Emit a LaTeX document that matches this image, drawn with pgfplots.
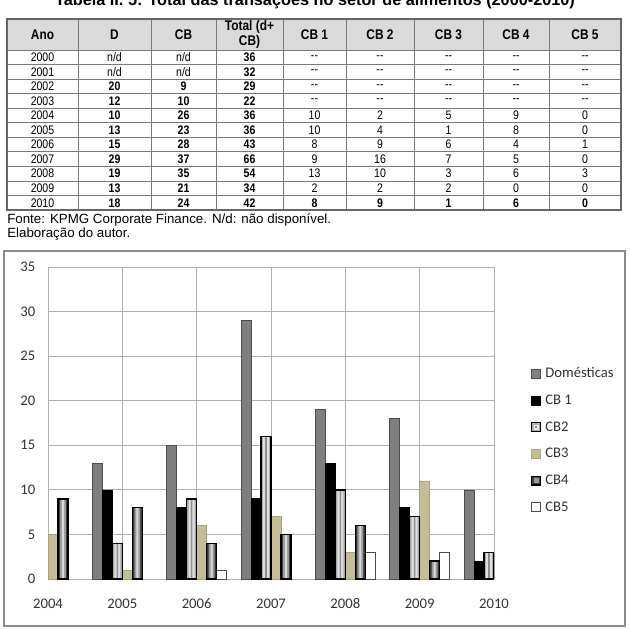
\documentclass[border=0pt]{standalone}
\usepackage{fontspec}
\setmainfont{Liberation Sans}
\newfontfamily\narrowfont{Liberation Sans}[FakeStretch=0.85]
\newfontfamily\calfont{Carlito}
\usepackage{pgfplots}
\pgfplotsset{compat=1.18}
\definecolor{gridgray}{HTML}{B0B0B0}
\definecolor{domgray}{HTML}{7F7F7F}
\definecolor{khaki}{HTML}{C4BD97}
\definecolor{hdr}{HTML}{DADADA}
\definecolor{tline}{HTML}{7A7A7A}
\pgfplotsset{/pgfplots/ybar legend/.style={/pgfplots/legend image code/.code={\draw[##1,line width=0.6pt] (0pt,-3.3pt) rectangle (6.6pt,3.3pt);}}}
\newcommand\nd{n/d}
\newcommand\dd{-{}-}
\newcommand\B[1]{\textbf{#1}}
\begin{document}
\begin{tikzpicture}[x=0.75pt,y=0.75pt]
\useasboundingbox (0,0) rectangle (630,628);
\clip (0,0) rectangle (630,628);
% ---------- table ----------
\begin{scope}[y=-0.75pt, yshift=471pt]
\node[anchor=base, font=\bfseries\fontsize{12.2}{14}\selectfont] at (315,6) {Tabela II. 5: Total das transações no setor de alimentos (2000-2010)};
\fill[hdr] (7,19) rectangle (621,50);
\foreach \k in {0,...,11} {\pgfmathsetmacro\yy{50+14.55*\k}\draw[tline, line width=0.6pt] (7,\yy) -- (621,\yy);}
\draw[tline, line width=0.6pt] (7,19) -- (621,19);
\foreach \x in {78,151,216,283,346,414,483,549} \draw[tline, line width=0.6pt] (\x,19) -- (\x,210);
\draw[black!60, line width=1pt] (7,19) rectangle (621,210);
\begin{scope}[every node/.style={font=\narrowfont\bfseries\fontsize{10.5}{11}\selectfont, align=center, inner sep=0pt}]
\node at (42.5,34.5) {Ano};
\node at (114.5,34.5) {D};
\node at (183.5,34.5) {CB};
\node at (249.5,34.5) {Total (d+\\CB)};
\node at (314.5,34.5) {CB 1};
\node at (380,34.5) {CB 2};
\node at (448.5,34.5) {CB 3};
\node at (516,34.5) {CB 4};
\node at (585,34.5) {CB 5};
\end{scope}
\begin{scope}[every node/.style={font=\narrowfont\fontsize{9.3}{10}\selectfont, inner sep=0pt}]
\foreach \yr/\a/\b/\c/\d/\e/\f/\g/\h [count=\i from 0] in {
2000/\nd/\nd/\B{36}/\dd/\dd/\dd/\dd/\dd,
2001/\nd/\nd/\B{32}/\dd/\dd/\dd/\dd/\dd,
2002/\B{20}/\B{9}/\B{29}/\dd/\dd/\dd/\dd/\dd,
2003/\B{12}/\B{10}/\B{22}/\dd/\dd/\dd/\dd/\dd,
2004/\B{10}/\B{26}/\B{36}/10/2/5/9/0,
2005/\B{13}/\B{23}/\B{36}/10/4/1/8/0,
2006/\B{15}/\B{28}/\B{43}/8/9/6/4/1,
2007/\B{29}/\B{37}/\B{66}/9/16/7/5/0,
2008/\B{19}/\B{35}/\B{54}/13/10/3/6/3,
2009/\B{13}/\B{21}/\B{34}/2/2/2/0/0,
2010/\B{18}/\B{24}/\B{42}/\B{8}/\B{9}/\B{1}/\B{6}/\B{0}} {
\pgfmathsetmacro\yy{50+14.55*(\i+0.5)}
\node at (42.5,\yy) {\yr};
\node at (114.5,\yy) {\a};
\node at (183.5,\yy) {\b};
\node at (249.5,\yy) {\c};
\node at (314.5,\yy) {\d};
\node at (380,\yy) {\e};
\node at (448.5,\yy) {\f};
\node at (516,\yy) {\g};
\node at (585,\yy) {\h};
}
\end{scope}
\node[anchor=base west, inner sep=0pt, font=\fontsize{10}{11}\selectfont] at (7,223.5) {Fonte: KPMG Corporate Finance. N/d: não disponível.};
\node[anchor=base west, inner sep=0pt, font=\fontsize{10}{11}\selectfont] at (7,237.5) {Elaboração do autor.};
\end{scope}
% ---------- chart ----------
\draw[black!45, line width=0.8pt] (4,2) rectangle (625,377);
\begin{axis}[at={(36pt,36.75pt)}, anchor=south west, scale only axis,
 width=334.5pt, height=234pt,
 xmin=2004, xmax=2010, ymin=0, ymax=35,
 ybar=0pt, bar width=7.5pt,
 xtick={2004,2005,2006,2007,2008,2009,2010}, ytick={0,5,...,35},
 grid=major, major grid style={draw=gridgray, line width=0.7pt},
 axis line style={draw=none}, tick style={draw=none},
 tick label style={font=\calfont\fontsize{11}{12}\selectfont, text=black!80},
 /pgf/number format/assume math mode=true,
 /pgf/number format/1000 sep={},
 xticklabel style={yshift=-7pt},
 yticklabel style={xshift=-6pt},
 legend style={at={(1.083,0.686)}, anchor=north west, draw=none, fill=none, inner sep=0pt, row sep=7pt,
   font=\calfont\fontsize{11}{13}\selectfont, text=black!80,
   nodes={inner ysep=1.5pt, inner xsep=3pt, text height=8pt, text depth=2pt}},
 legend cell align=left,
]
\addplot[fill=domgray, draw=black!70, line width=0.5pt, bar shift=-18.75pt] coordinates {(2005,13)(2006,15)(2007,29)(2008,19)(2009,18)(2010,10)};
\addlegendentry{Domésticas}
\addplot[fill=black, draw=black, line width=0.5pt, bar shift=-11.25pt] coordinates {(2005,10)(2006,8)(2007,9)(2008,13)(2009,8)(2010,2)};
\addlegendentry{CB 1}
% CB2: base layer (carries the legend)
\addplot[fill=black!35, draw=none, bar shift=-3.75pt,
  legend image code/.code={\draw[black, line width=0.9pt, fill=black!30] (0pt,-3.3pt) rectangle (6.6pt,3.3pt); \fill[black!8] (1.5pt,-1.8pt) rectangle (5.1pt,1.8pt); \fill[black!45] (2.6pt,-0.8pt) rectangle (4pt,0.8pt);}]
  coordinates {(2005,4)(2006,9)(2007,16)(2008,10)(2009,7)(2010,3)};
\addlegendentry{CB2}
\addplot[fill=khaki, draw=khaki!85!black, line width=0.3pt, bar shift=3.75pt] coordinates {(2004,5)(2005,1)(2006,6)(2007,7)(2008,3)(2009,11)};
\addlegendentry{CB3}
% CB4: base layer (carries the legend)
\addplot[fill=black!80, draw=none, bar shift=11.25pt,
  legend image code/.code={\draw[black, line width=0.9pt, fill=black!75] (0pt,-3.3pt) rectangle (6.6pt,3.3pt); \fill[black!40] (1.5pt,-1.8pt) rectangle (5.1pt,1.8pt);}]
  coordinates {(2004,9)(2005,8)(2006,4)(2007,5)(2008,6)(2009,2)};
\addlegendentry{CB4}
\addplot[fill=white, draw=black!70, line width=0.5pt, bar shift=18.75pt] coordinates {(2006,1)(2008,3)(2009,3)};
\addlegendentry{CB5}
% inner layers giving the cylinder look of CB2 and CB4
\addplot[forget plot, fill=black!12, draw=none, bar width=4.6pt, bar shift=-3.75pt] coordinates {(2005,4)(2006,9)(2007,16)(2008,10)(2009,7)(2010,3)};
\addplot[forget plot, fill=black!45, draw=none, bar width=1.2pt, bar shift=-3.75pt] coordinates {(2005,4)(2006,9)(2007,16)(2008,10)(2009,7)(2010,3)};
\addplot[forget plot, fill=none, draw=black, line width=1.1pt, bar shift=-3.75pt] coordinates {(2005,4)(2006,9)(2007,16)(2008,10)(2009,7)(2010,3)};
\addplot[forget plot, fill=black!40, draw=none, bar width=4.6pt, bar shift=11.25pt] coordinates {(2004,9)(2005,8)(2006,4)(2007,5)(2008,6)(2009,2)};
\addplot[forget plot, fill=black!15, draw=none, bar width=1.6pt, bar shift=11.25pt] coordinates {(2004,9)(2005,8)(2006,4)(2007,5)(2008,6)(2009,2)};
\addplot[forget plot, fill=none, draw=black, line width=1.1pt, bar shift=11.25pt] coordinates {(2004,9)(2005,8)(2006,4)(2007,5)(2008,6)(2009,2)};
\end{axis}
\end{tikzpicture}
\end{document}
